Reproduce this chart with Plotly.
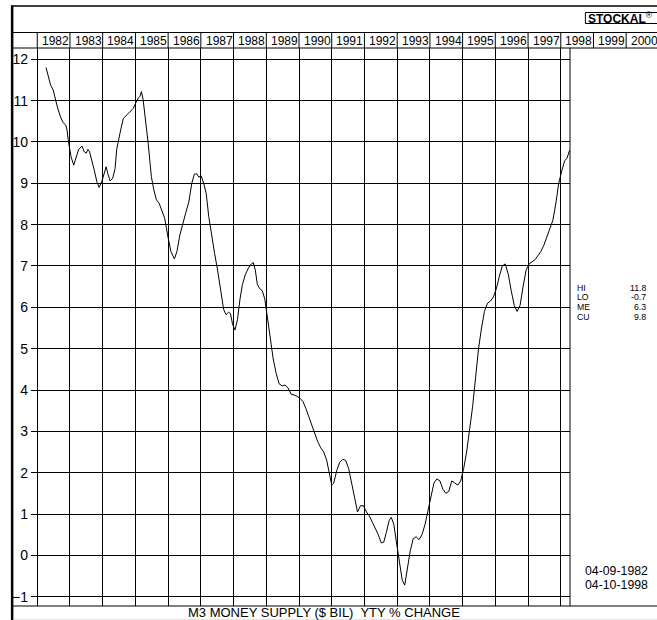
import plotly.graph_objects as go
import pandas as pd

# ---------------- data ----------------
dates = [
    "1982-04-09", "1982-05-10", "1982-05-29", "1982-06-27", "1982-07-24", "1982-08-18",
    "1982-09-17", "1982-10-16", "1982-11-15", "1982-11-29", "1982-12-18", "1983-01-13",
    "1983-02-12", "1983-03-14", "1983-04-08", "1983-05-15", "1983-06-10", "1983-07-02",
    "1983-07-20", "1983-08-08", "1983-09-02", "1983-09-29", "1983-10-28", "1983-11-23",
    "1983-12-22", "1984-01-18", "1984-02-09", "1984-02-27", "1984-03-24", "1984-04-22",
    "1984-05-19", "1984-06-05", "1984-06-24", "1984-07-20", "1984-08-19", "1984-09-18",
    "1984-10-13", "1984-11-08", "1984-12-07", "1985-01-06", "1985-02-01", "1985-02-20",
    "1985-03-09", "1985-03-28", "1985-04-16", "1985-05-04", "1985-05-23", "1985-06-10",
    "1985-06-28", "1985-07-25", "1985-08-23", "1985-09-22", "1985-10-17", "1985-11-24",
    "1985-12-30", "1986-02-01", "1986-03-12", "1986-04-09", "1986-05-12", "1986-06-14",
    "1986-07-18", "1986-08-20", "1986-09-22", "1986-10-20", "1986-11-17", "1986-12-09",
    "1987-01-05", "1987-02-02", "1987-03-02", "1987-03-30", "1987-05-02", "1987-06-04",
    "1987-07-07", "1987-08-09", "1987-09-12", "1987-10-09", "1987-11-06", "1987-11-28",
    "1987-12-20", "1988-01-17", "1988-02-14", "1988-03-13", "1988-04-09", "1988-05-13",
    "1988-06-15", "1988-07-18", "1988-08-09", "1988-08-31", "1988-09-23", "1988-10-20",
    "1988-11-17", "1988-12-15", "1989-01-11", "1989-02-13", "1989-03-19", "1989-04-21",
    "1989-05-24", "1989-06-26", "1989-07-29", "1989-09-01", "1989-10-04", "1989-11-06",
    "1989-12-09", "1990-01-11", "1990-02-14", "1990-03-19", "1990-04-21", "1990-05-24",
    "1990-06-26", "1990-07-29", "1990-09-01", "1990-10-04", "1990-11-06", "1990-12-04",
    "1991-01-01", "1991-01-24", "1991-02-26", "1991-03-31", "1991-05-03", "1991-06-05",
    "1991-07-09", "1991-08-11", "1991-09-13", "1991-10-16", "1991-11-18", "1991-12-21",
    "1992-01-24", "1992-02-26", "1992-03-30", "1992-05-02", "1992-06-04", "1992-07-07",
    "1992-08-04", "1992-09-01", "1992-10-04", "1992-10-27", "1992-11-24", "1992-12-21",
    "1993-01-24", "1993-02-26", "1993-03-26", "1993-04-22", "1993-05-26", "1993-06-28",
    "1993-07-31", "1993-09-02", "1993-10-05", "1993-11-08", "1993-12-11", "1994-01-13",
    "1994-02-15", "1994-03-20", "1994-04-23", "1994-05-26", "1994-06-28", "1994-07-31",
    "1994-09-02", "1994-10-06", "1994-11-08", "1994-12-11", "1995-01-13", "1995-02-15",
    "1995-03-20", "1995-04-23", "1995-05-26", "1995-06-28", "1995-07-31", "1995-09-02",
    "1995-10-06", "1995-11-08", "1995-12-11", "1996-01-13", "1996-02-15", "1996-03-19",
    "1996-04-21", "1996-05-25", "1996-06-27", "1996-07-30", "1996-09-01", "1996-10-04",
    "1996-11-06", "1996-12-10", "1997-01-12", "1997-02-14", "1997-03-19", "1997-04-21",
    "1997-05-24", "1997-06-26", "1997-07-30", "1997-09-01", "1997-10-04", "1997-11-06",
    "1997-12-09", "1998-01-12", "1998-02-14", "1998-03-10", "1998-04-10",
]
values = [
    11.80, 11.52, 11.38, 11.26, 11.02, 10.81,
    10.61, 10.47, 10.41, 10.29, 9.97, 9.64,
    9.44, 9.64, 9.82, 9.90, 9.76, 9.73,
    9.82, 9.76, 9.56, 9.32, 9.04, 8.90,
    9.04, 9.28, 9.40, 9.24, 9.06, 9.12,
    9.36, 9.81, 10.05, 10.29, 10.57, 10.63,
    10.69, 10.73, 10.81, 10.95, 11.06, 11.10,
    11.22, 11.02, 10.69, 10.37, 9.97, 9.56,
    9.16, 8.84, 8.60, 8.52, 8.35, 8.15,
    7.70, 7.35, 7.17, 7.35, 7.75, 8.05,
    8.30, 8.55, 9.00, 9.22, 9.23, 9.15,
    9.18, 9.00, 8.75, 8.20, 7.70, 7.30,
    6.90, 6.45, 5.95, 5.82, 5.88, 5.85,
    5.60, 5.45, 5.70, 6.20, 6.55, 6.80,
    6.95, 7.05, 7.08, 6.90, 6.55, 6.45,
    6.40, 6.20, 5.80, 5.20, 4.75, 4.40,
    4.15, 4.10, 4.12, 4.05, 3.90, 3.88,
    3.85, 3.80, 3.72, 3.55, 3.35, 3.15,
    3.00, 2.75, 2.60, 2.50, 2.30, 2.00,
    1.70, 1.75, 2.05, 2.25, 2.32, 2.30,
    2.10, 1.75, 1.35, 1.05, 1.20, 1.20,
    1.05, 0.95, 0.80, 0.65, 0.50, 0.30,
    0.32, 0.55, 0.85, 0.92, 0.75, 0.35,
    -0.20, -0.60, -0.72, -0.35, 0.10, 0.40,
    0.45, 0.38, 0.50, 0.75, 1.10, 1.45,
    1.75, 1.85, 1.80, 1.60, 1.50, 1.55,
    1.80, 1.75, 1.70, 1.80, 2.10, 2.50,
    3.00, 3.60, 4.30, 5.00, 5.50, 5.90,
    6.10, 6.15, 6.25, 6.45, 6.75, 7.00,
    7.05, 6.80, 6.40, 6.05, 5.90, 6.05,
    6.50, 6.90, 7.05, 7.10, 7.15, 7.25,
    7.35, 7.50, 7.70, 7.90, 8.10, 8.50,
    9.00, 9.30, 9.55, 9.60, 9.80,
]
year_labels = [str(y) for y in range(1982, 2001)]
stat_names = ["HI", "LO", "ME", "CU"]
stat_values = ["11.8", "-0.7", "6.3", "9.8"]
period_labels = ["04-09-1982", "04-10-1998"]
bottom_title = "M3 MONEY SUPPLY ($ BIL)\u00a0 YTY % CHANGE"
logo_text = "<b>STOCKAL</b><sup>®</sup>"

# ---------------- layout geometry ----------------
W, H = 657, 620
L, R, T, B = 27, 570, 48, 606          # plot area in pixels
x_min = pd.Timestamp("1981-10-23")
x_max = pd.Timestamp("1998-04-14")
y_min, y_max = -1.225, 12.273
FONT = "Liberation Sans, Arial, sans-serif"


def px_x(p):
    return (p - L) / (R - L)


def px_y(p):
    return (B - p) / (B - T)


def date_x(d):
    return (pd.Timestamp(d) - x_min) / (x_max - x_min)


fig = go.Figure()
fig.add_trace(go.Scatter(
    x=pd.to_datetime(dates), y=values, mode="lines",
    line=dict(color="black", width=1), hoverinfo="skip", showlegend=False,
))

shapes = []


def hline(y, x0, x1, w=1):
    shapes.append(dict(type="line", xref="paper", yref="paper",
                       x0=px_x(x0), x1=px_x(x1), y0=px_y(y), y1=px_y(y),
                       line=dict(color="black", width=w)))


def vline(xp, y0, y1, w=1):
    shapes.append(dict(type="line", xref="paper", yref="paper",
                       x0=xp, x1=xp, y0=px_y(y0), y1=px_y(y1),
                       line=dict(color="black", width=w)))


# outer frame and header rows
hline(6, 8, 660, 1.5)
hline(32.5, 8, 660)
hline(48, 8, 660)
hline(606, 8, 660)
vline(px_x(8), 5.3, 620, 2.5)
# right edge of the plot panel
vline(px_x(570), 48, 606)
# header year separators
for y in range(1982, 2001):
    vline(date_x(f"{y}-01-01"), 32.5, 48)
# logo box
shapes.append(dict(type="rect", xref="paper", yref="paper",
                   x0=px_x(585.5), x1=px_x(662), y0=px_y(23.5), y1=px_y(12.5),
                   line=dict(color="black", width=1)))
# faint strip at the very bottom
shapes.append(dict(type="rect", xref="paper", yref="paper",
                   x0=px_x(9.5), x1=px_x(660), y0=px_y(620.5), y1=px_y(618.8),
                   line=dict(width=0), fillcolor="#e8e8e8"))

annotations = []
for i, lab in enumerate(year_labels):
    yr = 1982 + i
    annotations.append(dict(
        xref="paper", yref="paper", x=date_x(f"{yr + 1}-01-01"), y=px_y(40.5),
        xanchor="right", yanchor="middle", text=lab, showarrow=False,
        borderpad=0, font=dict(family=FONT, size=12, color="black")))

annotations.append(dict(
    xref="paper", yref="paper", x=px_x(621), y=px_y(18), xanchor="center",
    yanchor="middle", text=logo_text, showarrow=False, borderpad=0,
    font=dict(family=FONT, size=12, color="black")))

stat_ys = [287.5, 297.3, 307.1, 316.9]
for name, val, yy in zip(stat_names, stat_values, stat_ys):
    annotations.append(dict(
        xref="paper", yref="paper", x=px_x(576), y=px_y(yy), xanchor="left",
        yanchor="middle", text=name, showarrow=False, borderpad=0,
        font=dict(family=FONT, size=8.7, color="black")))
    annotations.append(dict(
        xref="paper", yref="paper", x=px_x(648), y=px_y(yy), xanchor="right",
        yanchor="middle", text=val, showarrow=False, borderpad=0,
        font=dict(family=FONT, size=8.7, color="black")))

for lab, yy in zip(period_labels, [571.2, 585.2]):
    annotations.append(dict(
        xref="paper", yref="paper", x=px_x(650), y=px_y(yy), xanchor="right",
        yanchor="middle", text=lab, showarrow=False, borderpad=0,
        font=dict(family=FONT, size=12.3, color="black")))

annotations.append(dict(
    xref="paper", yref="paper", x=px_x(322), y=px_y(612.5), xanchor="center",
    yanchor="middle", text=bottom_title, showarrow=False, borderpad=0,
    font=dict(family=FONT, size=13, color="black")))

fig.update_layout(
    width=W, height=H,
    margin=dict(l=L, r=W - R, t=T, b=H - B, pad=0),
    paper_bgcolor="white", plot_bgcolor="white",
    showlegend=False,
    shapes=shapes, annotations=annotations,
    xaxis=dict(type="date", range=[x_min, x_max], tick0="1982-01-01", dtick="M12",
               showgrid=True, gridcolor="black", gridwidth=1,
               showticklabels=False, ticks="", zeroline=False, showline=False,
               fixedrange=True),
    yaxis=dict(range=[y_min, y_max], tick0=0, dtick=1,
               showgrid=True, gridcolor="black", gridwidth=1,
               ticks="", ticklen=0, zeroline=False, showline=False,
               ticklabelstandoff=2,
               tickfont=dict(family=FONT, size=14, color="black"),
               fixedrange=True),
)

fig.write_html(
    "out.html",
    config={"displayModeBar": False},
    post_script="document.body.style.margin='0';document.body.style.padding='0';"
                "document.documentElement.style.overflow='hidden';",
)
